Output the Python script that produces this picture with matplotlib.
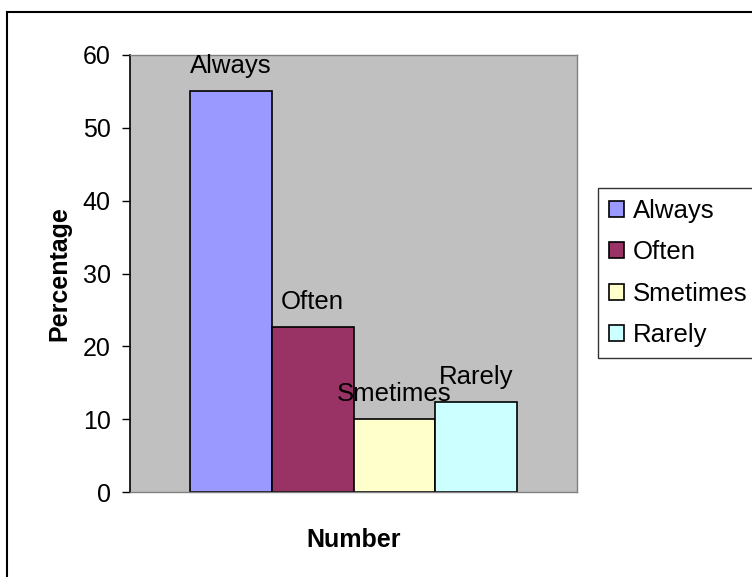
import matplotlib
matplotlib.use("Agg")
import matplotlib.pyplot as plt
from matplotlib.patches import Rectangle
import numpy as np

plt.rcParams['font.family'] = ['Liberation Sans', 'DejaVu Sans']

# data
categories = ["Always", "Often", "Smetimes", "Rarely"]
values = [55, 22.6, 10, 12.4]
colors = ["#9999FF", "#993366", "#FFFFCC", "#CCFFFF"]
yticks = [0, 10, 20, 30, 40, 50, 60]

fs = 18.5

fig = plt.figure(figsize=(7.52, 5.77), dpi=100)
ax = fig.add_axes([130 / 752, 1 - 492 / 577, 447 / 752, 437 / 577])
ax.set_facecolor("#C0C0C0")

# four series side by side in the single "Number" category
n = len(categories)
group_width = 0.731
bar_w = group_width / n
xs = -group_width / 2 + bar_w / 2 + np.arange(n) * bar_w
for x, v, c, lab in zip(xs, values, colors, categories):
    ax.bar(x, v, width=bar_w, color=c, edgecolor="black", linewidth=1.2, label=lab, zorder=2)
    ax.annotate(lab, (x, v), xytext=(0, 18), textcoords="offset pixels",
                ha="center", va="baseline", fontsize=fs, zorder=3)

ax.set_xlim(-0.5, 0.5)
ax.set_ylim(0, 60)
ax.set_yticks(yticks)
ax.set_xticks([])
ax.tick_params(axis="y", direction="out", length=6, width=1, labelsize=18, pad=8)

for side in ["top", "right", "bottom"]:
    ax.spines[side].set_color("#808080")
    ax.spines[side].set_linewidth(1)
ax.spines["left"].set_color("black")
ax.spines["left"].set_linewidth(1.2)

ax.set_ylabel("Percentage", fontsize=18, fontweight="bold", labelpad=8)
ax.set_xlabel("Number", fontsize=18, fontweight="bold", labelpad=26)

leg = fig.legend(loc="upper left", bbox_to_anchor=(598 / 752, 1 - 188 / 577),
                 fontsize=fs, frameon=True, fancybox=False, borderaxespad=0,
                 handlelength=0.58, handleheight=0.58, handletextpad=0.35,
                 labelspacing=0.68, borderpad=0.42)
leg.get_frame().set_edgecolor("black")
leg.get_frame().set_linewidth(1)

# outer chart border, cut off at the right and bottom
fig.patches.append(Rectangle((7 / 752, -0.1), 1.0, 1.1 - 12 / 577, transform=fig.transFigure,
                             fill=False, edgecolor="black", linewidth=1.5))

fig.savefig("out.png", dpi=100, facecolor="white")
